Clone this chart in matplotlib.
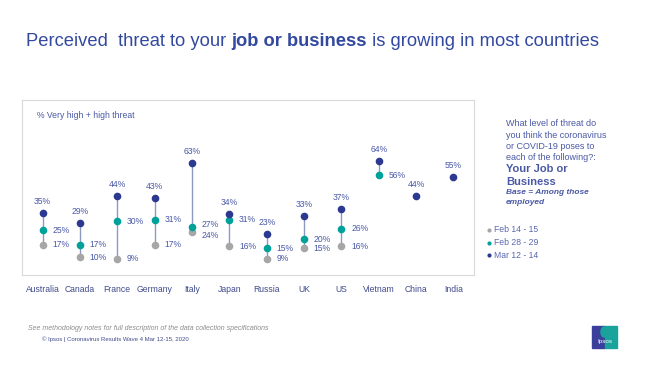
import matplotlib
matplotlib.use("Agg")
import matplotlib.pyplot as plt
import matplotlib.patches as mpatches
import numpy as np

plt.rcParams['font.family'] = ['Liberation Sans', 'DejaVu Sans']

countries = ["Australia", "Canada", "France", "Germany", "Italy", "Japan",
             "Russia", "UK", "US", "Vietnam", "China", "India"]
feb14 = [17, 10, 9, 17, 24, 16, 9, 15, 16, None, None, None]
feb28 = [25, 17, 30, 31, 27, 31, 15, 20, 26, 56, None, None]
mar12 = [35, 29, 44, 43, 63, 34, 23, 33, 37, 64, 44, 55]
legend_labels = ["Feb 14 - 15", "Feb 28 - 29", "Mar 12 - 14"]

NAVY = "#2b3990"
TEAL = "#00a19a"
GRAY = "#a6a6a6"
LINE = "#8e99c2"
TXT = "#4a59a6"
TITLE = "#3349a0"

W, H = 654, 373
fig = plt.figure(figsize=(W / 100, H / 100), dpi=100)
fig.patch.set_facecolor("white")

def fx(px):
    return px / W

def fy(py):
    return 1 - py / H

ax = fig.add_axes([fx(22), fy(275), fx(474) - fx(22), fy(100) - fy(275)])
ax.set_xlim(-0.55, 11.55)
ax.set_ylim(0, 98)
for s in ax.spines.values():
    s.set_color("#d9d9d9")
    s.set_linewidth(0.8)
ax.set_yticks([])
x = np.arange(len(countries))
ax.set_xticks(x)
ax.set_xticklabels(countries, fontsize=6.2, color="#404b8c")
ax.tick_params(axis="x", length=0, pad=7)

ms = 5.5
for i in range(len(countries)):
    vals = [v for v in (feb14[i], feb28[i], mar12[i]) if v is not None]
    if len(vals) > 1:
        ax.plot([x[i], x[i]], [min(vals), max(vals)], color=LINE, lw=1.0, zorder=1)
    if feb14[i] is not None:
        ax.plot(x[i], feb14[i], "o", color=GRAY, ms=ms, mec="none", zorder=2)
        dy = -2.5 if (feb28[i] is not None and abs(feb28[i] - feb14[i]) < 5) else 0
        ax.annotate(f"{feb14[i]}%", (x[i], feb14[i]), xytext=(7, dy), textcoords="offset points",
                    fontsize=6.2, color=TXT, va="center", ha="left")
    if feb28[i] is not None:
        ax.plot(x[i], feb28[i], "o", color=TEAL, ms=ms, mec="none", zorder=3)
        dy = 1.5 if (feb14[i] is not None and abs(feb28[i] - feb14[i]) < 5) else 0
        ax.annotate(f"{feb28[i]}%", (x[i], feb28[i]), xytext=(7, dy), textcoords="offset points",
                    fontsize=6.2, color=TXT, va="center", ha="left")
    ax.plot(x[i], mar12[i], "o", color=NAVY, ms=ms, mec="none", zorder=4)
    ax.annotate(f"{mar12[i]}%", (x[i], mar12[i]), xytext=(0, 5), textcoords="offset points",
                fontsize=6.2, color=TXT, va="bottom", ha="center")

fig.text(fx(37), fy(115), "% Very high + high threat", fontsize=6.2, color=TXT, va="center", ha="left")

# Title with bold part
TY = fy(46)
t1 = fig.text(fx(26), TY, "Perceived  threat to your ", fontsize=13.2, color=TITLE,
              va="baseline", ha="left")
t2 = fig.text(0, 0, "job or business", fontsize=13.2, color=TITLE, fontweight="bold",
              va="baseline", ha="left")
t3 = fig.text(0, 0, " is growing in most countries", fontsize=13.2, color=TITLE,
              va="baseline", ha="left")
fig.canvas.draw()
r = fig.canvas.get_renderer()
bb1 = t1.get_window_extent(r)
t2.set_position((bb1.x1 / fig.bbox.width, TY))
bb2 = t2.get_window_extent(r)
t3.set_position((bb2.x1 / fig.bbox.width, TY))

# Right-side question text
qlines = ["What level of threat do", "you think the coronavirus", "or COVID-19 poses to",
          "each of the following?:"]
for k, line in enumerate(qlines):
    fig.text(fx(506), fy(124 + k * 11), line, fontsize=6.5, color=TXT, va="center", ha="left")
fig.text(fx(506), fy(169), "Your Job or", fontsize=8, color=TXT, fontweight="bold", va="center")
fig.text(fx(506), fy(182), "Business", fontsize=8, color=TXT, fontweight="bold", va="center")
fig.text(fx(506), fy(193), "Base = Among those", fontsize=6, color=TXT, fontweight="bold",
         style="italic", va="center")
fig.text(fx(506), fy(203), "employed", fontsize=6, color=TXT, fontweight="bold",
         style="italic", va="center")

# Legend
for k, (lab, col) in enumerate(zip(legend_labels, [GRAY, TEAL, NAVY])):
    yy = fy(230 + k * 12.7)
    fig.lines.append(plt.Line2D([fx(489)], [yy], marker="o", color=col, ms=3, mec="none",
                                transform=fig.transFigure))
    fig.text(fx(494), yy, lab, fontsize=6.2, color="#5a68b0", va="center", ha="left")

# Footnotes
fig.text(fx(28), fy(328), "See methodology notes for full description of the data collection specifications",
         fontsize=5, color="#8c8c8c", style="italic", va="center")
fig.text(fx(42), fy(339), "© Ipsos | Coronavirus Results Wave 4 Mar 12-15, 2020",
         fontsize=4.3, color="#404b8c", va="center")

# Logo
fig.patches.append(mpatches.Rectangle((fx(592), fy(348)), fx(13), fy(326) - fy(348),
                                      transform=fig.transFigure, color="#3a3f9c"))
fig.patches.append(mpatches.Rectangle((fx(605), fy(348)), fx(12), fy(326) - fy(348),
                                      transform=fig.transFigure, color="#1aa39a"))
fig.patches.append(mpatches.Ellipse((fx(604), fy(332)), fx(6), fy(326) - fy(336),
                                    transform=fig.transFigure, color="#1aa39a"))
fig.text(fx(604.5), fy(342), "Ipsos", fontsize=4.5, color="white", ha="center", va="center")

fig.savefig("out.png", dpi=100, facecolor="white")
